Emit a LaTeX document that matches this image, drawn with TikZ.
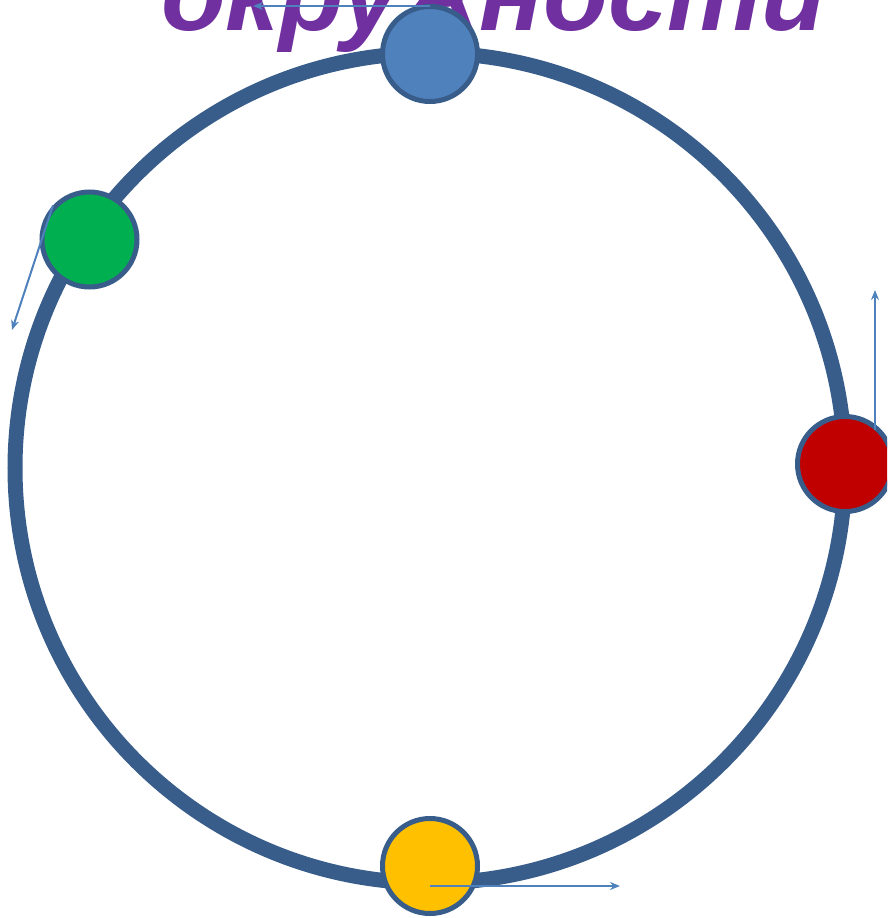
\documentclass[tikz,border=0pt]{standalone}
\usepackage{fontspec}
\setmainfont{Liberation Sans}
\usepackage{xcolor}
\usetikzlibrary{arrows.meta}

\definecolor{ringblue}{HTML}{385D8A}
\definecolor{velblue}{HTML}{4F81BD}
\definecolor{titlepurple}{HTML}{7030A0}

\tikzset{
  ball/.style={circle,draw=ringblue,line width=5pt,minimum size=95pt,inner sep=0pt},
  vel/.style={draw=velblue,line width=2pt,-{Stealth[length=10pt,width=8pt]}}
}

\begin{document}
\begin{tikzpicture}[x=1pt,y=-1pt]
		\useasboundingbox (0,0) rectangle (887,918);
		\clip (0,0) rectangle (887,918);

		\node[anchor=base west,inner sep=0pt,text=titlepurple,font=\fontsize{106}{116}\selectfont\bfseries\itshape] (title) at (161,30) {окружности};

		\node[circle,draw=ringblue,line width=15pt,minimum size=830pt,inner sep=0pt] (ring) at (430,468) {};

		\node[ball,fill=velblue]         (top)    at (430,54)    {};
		\node[ball,fill={rgb,255:red,0;green,176;blue,80}] (left) at (89.5,239.5) {};
		\node[ball,fill={rgb,255:red,192;green,0;blue,0}]  (right) at (845,464) {};
		\node[ball,fill={rgb,255:red,255;green,192;blue,0}] (bottom) at (430,866) {};

		\coordinate (topv)    at (253,6);
		\coordinate (leftv)   at (12,330);
		\coordinate (rightv)  at (875,290);
		\coordinate (bottomv) at (620,886);

		\draw[vel] ([yshift=-2pt]top.north) -- (topv);
		\draw[vel] (left.137) -- (leftv);
		\draw[vel] ([shift={(30,-34)}]right.center) -- (rightv);
		\draw[vel] ([shift={(0,20)}]bottom.center) -- (bottomv);
	\end{tikzpicture}
\end{document}
